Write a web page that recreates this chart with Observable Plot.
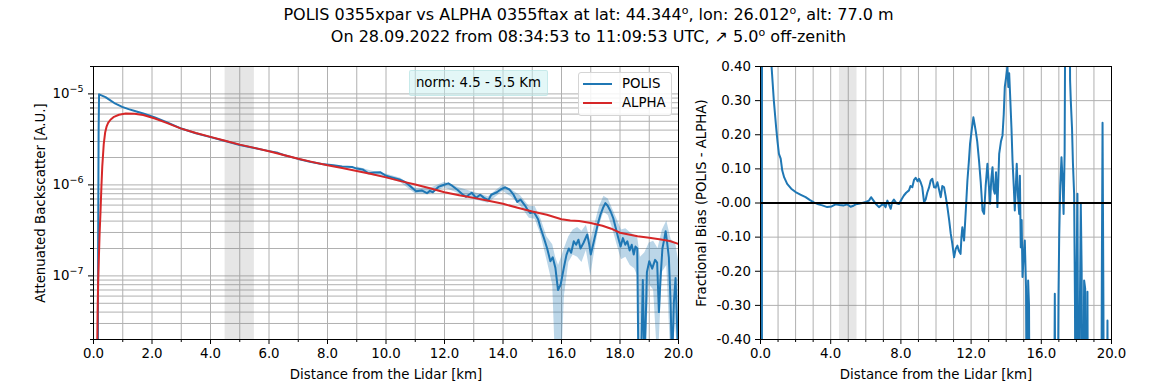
<!DOCTYPE html>
<html><head><meta charset="utf-8">
<script src="https://cdn.jsdelivr.net/npm/d3@7"></script>
<script src="https://cdn.jsdelivr.net/npm/@observablehq/plot@0.6"></script>
<style>
body{margin:0;background:#fff;font-family:"DejaVu Sans",sans-serif;}
#fig{position:relative;width:1169px;height:390px;overflow:hidden;background:#fff}
#title{position:absolute;left:4px;top:5px;width:1169px;text-align:center;font-size:16px;line-height:19.5px;z-index:3;color:#000;white-space:nowrap}
#title sup{font-size:11px;vertical-align:0;position:relative;top:-6px}
#left,#right{position:absolute;top:0}
#left{left:0}#right{left:690px}
#legend{position:absolute;left:578px;top:72px;width:92px;height:42px;border:1px solid #d5d5d5;border-radius:3px;background:rgba(255,255,255,0.85);z-index:3;font-size:13.33px}
#legend .row{position:absolute;left:0;height:16px;line-height:16px}
#legend .sw{position:absolute;left:4px;top:7px;width:29px;height:2px}
#legend .lab{position:absolute;left:43px;top:0}
#norm{position:absolute;left:409px;top:70px;width:137px;height:24px;line-height:24px;text-align:center;font-size:13.33px;background:rgba(200,240,240,0.5);border:1px solid rgba(180,225,225,0.6);border-radius:2px;z-index:3}
</style></head>
<body><div id="fig">
<div id="title">POLIS 0355xpar vs ALPHA 0355ftax at lat: 44.344<sup>o</sup>, lon: 26.012<sup>o</sup>, alt: 77.0 m<br>On 28.09.2022 from 08:34:53 to 11:09:53 UTC, &#x2197; 5.0<sup>o</sup> off-zenith</div>
<div id="left"></div><div id="right"></div>
<div id="norm">norm: 4.5 - 5.5 Km</div>
<div id="legend">
 <div class="row" style="top:3px;width:100%"><div class="sw" style="background:#1f77b4"></div><div class="lab">POLIS</div></div>
 <div class="row" style="top:22px;width:100%"><div class="sw" style="background:#d62728"></div><div class="lab">ALPHA</div></div>
</div>
</div>
<script>
// ---------- data ----------
const normRange = [4.5, 5.5];

const alpha = [
 [0.12,1.0e-8],[0.14,4e-8],[0.16,9e-8],[0.18,1.45e-7],[0.21,3e-7],[0.24,5.1e-7],[0.27,9.5e-7],
 [0.30,1.6e-6],[0.35,2.8e-6],[0.40,3.8e-6],[0.45,4.4e-6],[0.50,4.8e-6],[0.58,5.2e-6],[0.70,5.6e-6],
 [0.87,5.9e-6],[1.10,6.1e-6],[1.40,6.05e-6],[1.70,5.85e-6],[2.10,5.37e-6],[2.50,4.8e-6],[3.00,4.15e-6],
 [3.50,3.72e-6],[4.00,3.37e-6],[4.50,3.05e-6],[5.00,2.77e-6],[5.50,2.55e-6],[6.00,2.34e-6],[6.50,2.13e-6],
 [7.00,1.94e-6],[7.50,1.78e-6],[8.00,1.64e-6],[8.50,1.53e-6],[9.00,1.42e-6],[9.50,1.32e-6],[10.0,1.21e-6],
 [10.5,1.10e-6],[11.0,1.01e-6],[11.5,9.2e-7],[12.0,8.3e-7],[12.5,7.7e-7],[13.0,7.2e-7],[13.5,6.7e-7],
 [14.0,6.2e-7],[14.5,5.6e-7],[15.0,5.1e-7],[15.5,4.7e-7],[16.0,4.2e-7],[16.3,4.07e-7],[16.6,4.0e-7],
 [17.0,3.82e-7],[17.4,3.55e-7],[17.7,3.3e-7],[18.0,2.98e-7],[18.3,2.85e-7],[18.6,2.73e-7],[19.0,2.62e-7],
 [19.4,2.51e-7],[19.7,2.42e-7],[20.0,2.25e-7]
];

const polis = [
 [0.15,1e-8],[0.16,3e-7],[0.175,4e-6],[0.19,9.9e-6],[0.25,9.7e-6],[0.41,9.2e-6],[0.55,8.6e-6],[0.75,7.8e-6],
 [0.98,7.2e-6],[1.2,6.8e-6],[1.44,6.45e-6],[1.7,6.1e-6],[1.9,5.8e-6],[2.1,5.52e-6],[2.5,4.9e-6],[3.0,4.16e-6],
 [3.5,3.70e-6],[4.0,3.35e-6],[4.5,3.03e-6],[5.0,2.75e-6],[5.5,2.54e-6],[6.0,2.35e-6],[6.3,2.25e-6],[6.5,2.13e-6],
 [7.0,1.93e-6],[7.4,1.80e-6],[7.8,1.70e-6],[8.2,1.64e-6],[8.5,1.59e-6],[8.84,1.57e-6],[9.0,1.51e-6],[9.2,1.48e-6],
 [9.4,1.34e-6],[9.6,1.37e-6],[9.8,1.38e-6],[10.0,1.26e-6],[10.2,1.21e-6],[10.46,1.15e-6],[10.65,1.08e-6],
 [10.84,9.6e-7],[11.03,8.5e-7],[11.22,8.7e-7],[11.4,8.1e-7],[11.5,8.6e-7],[11.6,8.3e-7],[11.79,9.5e-7],
 [11.94,9.9e-7],[12.13,1.04e-6],[12.26,9.8e-7],[12.45,8.8e-7],[12.65,7.7e-7],[12.74,7.4e-7],[12.93,8.2e-7],
 [13.08,7.2e-7],[13.22,7.8e-7],[13.35,7.2e-7],[13.5,6.8e-7],[13.6,7.8e-7],[13.79,8.3e-7],[13.92,8.9e-7],
 [14.07,9.4e-7],[14.22,8.9e-7],[14.36,7.8e-7],[14.49,6.5e-7],[14.6,6.9e-7],[14.74,6.0e-7],[14.83,5.4e-7],
 [14.93,4.9e-7],[15.06,5.0e-7],[15.2,4.2e-7],[15.28,3.4e-7],[15.4,2.6e-7],[15.51,2.0e-7],[15.62,1.45e-7],
 [15.7,1.6e-7],[15.79,1.23e-7],[15.88,7.0e-8],[15.97,8.0e-8],[16.08,1.23e-7],[16.17,1.7e-7],[16.25,2.0e-7],
 [16.33,1.8e-7],[16.42,2.4e-7],[16.5,2.2e-7],[16.58,2.5e-7],[16.65,2.0e-7],[16.75,2.3e-7],[16.88,2.85e-7],
 [16.95,2.2e-7],[17.0,1.72e-7],[17.08,2.2e-7],[17.16,2.85e-7],[17.25,3.8e-7],[17.33,4.7e-7],[17.42,5.6e-7],
 [17.5,6.3e-7],[17.58,5.9e-7],[17.68,5.1e-7],[17.77,4.3e-7],[17.85,3.4e-7],[17.93,2.7e-7],[18.02,2.1e-7],
 [18.1,2.6e-7],[18.18,2.2e-7],[18.25,2.4e-7],[18.33,1.9e-7],[18.4,2.2e-7],[18.47,1.72e-7],[18.53,2.1e-7],
 [18.59,2.0e-7],[18.63,1e-8],[18.72,1e-8],[18.78,9e-8],[18.84,1e-8],[18.92,1.1e-7],[19.0,1.45e-7],
 [19.1,1.2e-7],[19.2,1.5e-7],[19.27,1.4e-7],[19.33,4e-8],[19.38,8.8e-8],[19.45,2.0e-7],[19.52,2.6e-7],
 [19.56,3.1e-7],[19.62,2.2e-7],[19.67,1.6e-7],[19.73,5e-8],[19.78,1e-8],[19.84,5e-8],[19.9,9.5e-8],
 [19.95,3e-8],[20.0,1e-8]
];

// POLIS uncertainty envelope: [km, low, high]
const polisBand = [
 [9.0,1.45e-6,1.58e-6],[9.5,1.28e-6,1.42e-6],[10.0,1.18e-6,1.32e-6],[10.5,1.06e-6,1.18e-6],[11.0,8.0e-7,9.2e-7],
 [11.5,7.9e-7,9.1e-7],[12.0,9.3e-7,1.07e-6],[12.5,8.0e-7,9.3e-7],[13.0,6.9e-7,8.3e-7],[13.5,6.3e-7,7.4e-7],
 [14.0,8.5e-7,1.0e-6],[14.3,7.3e-7,8.8e-7],[14.6,5.9e-7,7.6e-7],[14.9,4.3e-7,5.8e-7],[15.1,4.2e-7,5.8e-7],
 [15.3,2.8e-7,4.2e-7],[15.5,1.5e-7,2.7e-7],[15.7,8e-8,2.2e-7],[15.8,1e-8,1.6e-7],[15.9,1e-8,1.3e-7],
 [16.0,1e-8,1.6e-7],[16.1,6e-8,2.0e-7],[16.25,1.4e-7,2.7e-7],[16.4,1.7e-7,3.2e-7],[16.55,1.6e-7,3.4e-7],
 [16.7,1.4e-7,3.1e-7],[16.85,1.9e-7,3.6e-7],[17.0,1.0e-7,2.4e-7],[17.15,2.0e-7,3.8e-7],[17.3,3.6e-7,5.8e-7],
 [17.45,5.0e-7,7.5e-7],[17.6,4.6e-7,7.0e-7],[17.75,3.3e-7,5.4e-7],[17.9,2.2e-7,4.2e-7],[18.05,1.5e-7,3.2e-7],
 [18.2,1.6e-7,3.3e-7],[18.35,1.3e-7,3.0e-7],[18.5,1.2e-7,2.8e-7],[18.6,1.0e-7,2.7e-7],[18.7,1e-8,1.6e-7],
 [18.85,1e-8,1.8e-7],[19.0,8e-8,2.3e-7],[19.15,7e-8,2.4e-7],[19.3,1e-8,2.0e-7],[19.45,1.1e-7,3.2e-7],
 [19.6,1.3e-7,4.0e-7],[19.75,1e-8,2.5e-7],[19.9,3e-8,2.3e-7],[20.0,1e-8,1.5e-7]
];

// fractional bias (POLIS - ALPHA)/ALPHA
const bias = [
 [0.08,-1],[0.09,3],[0.30,3],[0.55,0.8],[0.63,0.40],[0.76,0.30],[0.89,0.222],[0.97,0.18],[1.05,0.144],[1.15,0.13],
 [1.24,0.095],[1.35,0.075],[1.52,0.056],[1.75,0.042],[2.00,0.032],[2.30,0.024],[2.57,0.017],[2.80,0.009],[3.04,0.002],
 [3.30,-0.004],[3.52,-0.007],[3.80,-0.012],[4.05,-0.010],[4.28,-0.004],[4.50,-0.006],[4.75,-0.007],[4.95,-0.004],
 [5.13,-0.011],[5.30,-0.008],[5.42,-0.004],[5.60,-0.002],[5.80,0.0],[6.00,0.003],[6.18,0.007],[6.30,0.017],
 [6.37,0.012],[6.56,-0.002],[6.75,-0.012],[6.90,-0.006],[7.03,-0.004],[7.13,-0.012],[7.23,0.007],[7.42,-0.017],
 [7.50,0.002],[7.60,0.010],[7.75,-0.001],[7.89,-0.003],[8.05,0.012],[8.17,0.022],[8.30,0.03],[8.46,0.037],
 [8.55,0.05],[8.65,0.046],[8.75,0.068],[8.84,0.074],[8.95,0.064],[9.03,0.071],[9.13,0.06],[9.22,0.046],
 [9.32,0.002],[9.41,0.01],[9.50,0.03],[9.60,0.045],[9.70,0.066],[9.79,0.071],[9.89,0.046],[9.98,0.045],
 [10.08,0.061],[10.17,0.04],[10.27,0.017],[10.36,0.05],[10.46,0.046],[10.55,0.02],[10.65,-0.012],[10.75,-0.05],
 [10.84,-0.09],[10.93,-0.12],[11.03,-0.159],[11.12,-0.135],[11.22,-0.125],[11.30,-0.14],[11.40,-0.149],
 [11.45,-0.1],[11.50,-0.071],[11.60,-0.11],[11.70,-0.02],[11.79,0.066],[11.87,0.12],[11.94,0.173],[12.05,0.22],
 [12.13,0.251],[12.20,0.23],[12.26,0.212],[12.35,0.18],[12.45,0.125],[12.55,0.06],[12.65,-0.022],[12.74,-0.032],
 [12.83,0.05],[12.93,0.115],[13.00,0.06],[13.08,-0.002],[13.15,0.07],[13.22,0.105],[13.28,0.04],[13.35,0.027],
 [13.42,0.09],[13.50,-0.012],[13.60,0.144],[13.70,0.18],[13.79,0.198],[13.86,0.26],[13.92,0.34],[14.00,0.37],
 [14.07,0.40],[14.12,0.34],[14.17,0.38],[14.22,0.32],[14.30,0.22],[14.36,0.125],[14.43,0.05],[14.49,-0.022],
 [14.55,0.05],[14.60,0.115],[14.67,0.02],[14.74,-0.032],[14.78,0.08],[14.83,-0.13],[14.88,-0.05],[14.93,-0.217],
 [15.00,-0.15],[15.06,-0.11],[15.13,-0.25],[15.20,-1],[15.25,-0.227],[15.30,-0.3],[15.36,-1],[16.70,-1],
 [16.77,-0.266],[16.82,-1],[16.90,-1],[16.98,-0.27],[17.02,-0.1],[17.08,0.05],[17.15,0.134],[17.20,0.08],
 [17.27,-0.032],[17.33,0.15],[17.40,1],[17.59,1],[17.64,0.36],[17.68,0.30],[17.75,0.22],[17.80,0.12],
 [17.87,0.027],[17.92,-0.3],[17.96,-1],[18.01,-0.2],[18.06,0.027],[18.10,-0.5],[18.15,-1],[18.20,-0.3],
 [18.25,-0.002],[18.30,-0.2],[18.35,-1],[18.44,-0.227],[18.50,-0.25],[18.55,-1],[18.63,-0.26],[18.68,-1],
 [19.40,-1],[19.45,-0.2],[19.49,0.235],[19.54,-0.3],[19.58,-1],[19.72,-1],[19.77,-0.344],[19.83,-1],[20.0,-1]
];

// ticks and labels
const xTicksLeft = [0,2,4,6,8,10,12,14,16,18,20];
const xLabelsLeft = ["0.0","2.0","4.0","6.0","8.0","10.0","12.0","14.0","16.0","18.0","20.0"];
const xMinor = d3.range(0, 21, 1);
const xTicksRight = [0,4,8,12,16,20];
const xLabelsRight = ["0.0","4.0","8.0","12.0","16.0","20.0"];
const yTicksLeft = [1e-7,1e-6,1e-5];
const yBaseLeft = ["10","10","10"];
const yExpLeft = ["\u22127","\u22126","\u22125"];
const yMinorLeft = [2e-8,3e-8,4e-8,5e-8,6e-8,7e-8,8e-8,9e-8,1e-7,2e-7,3e-7,4e-7,5e-7,6e-7,7e-7,8e-7,9e-7,
  1e-6,2e-6,3e-6,4e-6,5e-6,6e-6,7e-6,8e-6,9e-6,1e-5,2e-5];
const yTicksRight = [-0.4,-0.3,-0.2,-0.1,0,0.1,0.2,0.3,0.4];
const yLabelsRight = ["-0.40","-0.30","-0.20","-0.10","-0.00","0.10","0.20","0.30","0.40"];

// ---------- drawing ----------
const FS = 13.33;
const grid = {stroke:"#b0b0b0", strokeOpacity:1, strokeWidth:1};
const fmt = (ticks, labels) => { const m = new Map(ticks.map((t,i)=>[t, labels[i]])); return d => m.get(d) ?? ""; };
const st = {fontFamily:"DejaVu Sans", fontSize:FS+"px", background:"transparent", color:"black", overflow:"visible"};
const C_POLIS = "#1f77b4", C_ALPHA = "#d62728";

const leftChart = Plot.plot({
  width:690, height:390, marginTop:66, marginBottom:51, marginLeft:93, marginRight:12,
  style: st,
  x:{domain:[0,20]},
  y:{type:"log", domain:[2e-8,2e-5]},
  marks:[
    Plot.gridX(xMinor, grid),
    Plot.gridY(yMinorLeft, grid),
    Plot.rect([normRange], {x1:d=>d[0], x2:d=>d[1], fill:"#808080", fillOpacity:0.2}),
    Plot.areaY(polisBand, {x:d=>d[0], y1:d=>d[1], y2:d=>d[2], fill:C_POLIS, fillOpacity:0.3, clip:true}),
    Plot.line(polis, {x:d=>d[0], y:d=>d[1], stroke:C_POLIS, strokeWidth:2, clip:true}),
    Plot.line(alpha, {x:d=>d[0], y:d=>d[1], stroke:C_ALPHA, strokeWidth:2, clip:true}),
    Plot.axisX(xTicksLeft, {tickSize:5, tickPadding:4.5, fontSize:FS, tickFormat:fmt(xTicksLeft,xLabelsLeft), label:"Distance from the Lidar [km]", labelAnchor:"center", labelOffset:39, labelArrow:"none"}),
    Plot.axisX(xMinor.filter(d=>d%2), {tickSize:3, tickFormat:()=>"", label:null}),
    Plot.axisY(yTicksLeft, {tickSize:5, tickFormat:()=>"", fontSize:FS, label:"Attenuated Backscatter [A.U.]", labelAnchor:"center", labelOffset:58, labelArrow:"none"}),
    Plot.text(yTicksLeft, {y:d=>d, frameAnchor:"left", text:(d,i)=>yBaseLeft[yTicksLeft.indexOf(d)], textAnchor:"end", dx:-24, fontSize:FS}),
    Plot.text(yTicksLeft, {y:d=>d, frameAnchor:"left", text:d=>yExpLeft[yTicksLeft.indexOf(d)], textAnchor:"start", dx:-24, dy:-5, fontSize:9.5}),
    Plot.axisY(yMinorLeft.filter(d=>!yTicksLeft.includes(d)), {tickSize:3, tickFormat:()=>"", label:null}),
    Plot.frame({stroke:"black", strokeWidth:1})
  ]
});
document.getElementById("left").append(leftChart);

const rightChart = Plot.plot({
  width:479, height:390, marginTop:66, marginBottom:51, marginLeft:70, marginRight:58,
  style: st,
  x:{domain:[0,20]},
  y:{domain:[-0.4,0.4]},
  marks:[
    Plot.gridX(xMinor, grid),
    Plot.gridY(yTicksRight, grid),
    Plot.rect([normRange], {x1:d=>d[0], x2:d=>d[1], fill:"#808080", fillOpacity:0.2}),
    Plot.line(bias, {x:d=>d[0], y:d=>d[1], stroke:C_POLIS, strokeWidth:2, clip:true}),
    Plot.ruleY([0], {stroke:"black", strokeWidth:2}),
    Plot.axisX(xTicksRight, {tickSize:5, tickPadding:4.5, fontSize:FS, tickFormat:fmt(xTicksRight,xLabelsRight), label:"Distance from the Lidar [km]", labelAnchor:"center", labelOffset:39, labelArrow:"none"}),
    Plot.axisX(xMinor.filter(d=>d%4), {tickSize:3, tickFormat:()=>"", label:null}),
    Plot.axisY(yTicksRight, {tickSize:5, tickPadding:4.5, fontSize:FS, tickFormat:fmt(yTicksRight,yLabelsRight), label:"Fractional Bias (POLIS - ALPHA)", labelAnchor:"center", labelOffset:64, labelArrow:"none"}),
    Plot.frame({stroke:"black", strokeWidth:1})
  ]
});
document.getElementById("right").append(rightChart);
</script>
</body></html>
